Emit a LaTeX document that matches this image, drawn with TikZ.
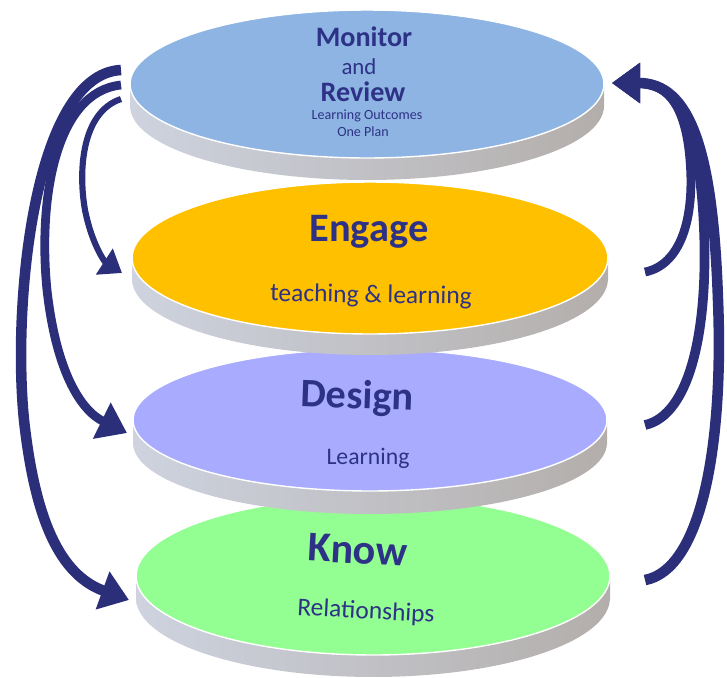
\documentclass[tikz,border=0pt]{standalone}
\usepackage{fontspec}
\setmainfont{Carlito}
\usetikzlibrary{arrows.meta}
\definecolor{navy}{HTML}{2E3286}
\definecolor{arrowblue}{HTML}{2B2F7A}
\definecolor{monitorblue}{HTML}{8DB4E2}
\definecolor{engageyellow}{HTML}{FFC000}
\definecolor{designviolet}{HTML}{A9ACFE}
\definecolor{knowgreen}{HTML}{93FE91}
\definecolor{rimleft}{HTML}{CED3DF}
\definecolor{rimright}{HTML}{B3AEAB}
\tikzset{
  rim/.style={left color=rimleft, right color=rimright},
  discface/.style={draw=white, line width=0.8pt},
  bigword/.style={text=navy, inner sep=0pt, font=\bfseries\fontsize{23}{23}\selectfont},
  smallword/.style={text=navy, inner sep=0pt, font=\fontsize{14.5}{14.5}\selectfont},
  loopline/.style={draw=arrowblue, line width=#1, -{Triangle[length=16pt, width=22pt]}},
  loopline/.default=4pt
}
\begin{document}
\begin{tikzpicture}[x=0.02cm, y=-0.02cm]
  \useasboundingbox (0,0) rectangle (727,677);

  % Know
  \shade[rim] (136,576) rectangle (610,598);
  \shade[rim] (373,598) ellipse [x radius=4.74cm, y radius=1.58cm];
  \fill[discface, fill=knowgreen] (373,576) ellipse [x radius=4.74cm, y radius=1.58cm];
  \node[bigword, font=\bfseries\fontsize{24}{24}\selectfont, rotate=-3] (know) at (358,550) {Know};
  \node[smallword, rotate=-3] (relationships) at (366,612) {Relationships};

  % Design
  \shade[rim] (133,420) rectangle (607,443);
  \shade[rim] (370,443) ellipse [x radius=4.74cm, y radius=1.42cm];
  \fill[discface, fill=designviolet] (370,420) ellipse [x radius=4.74cm, y radius=1.42cm];
  \node[bigword, rotate=-2] (design) at (357,398) {Design};
  \node[smallword, font=\fontsize{13.5}{13.5}\selectfont] (learning) at (368,458) {Learning};

  % Engage
  \shade[rim] (132,258) rectangle (608,279);
  \shade[rim] (370,279) ellipse [x radius=4.76cm, y radius=1.52cm];
  \fill[discface, fill=engageyellow] (370,258) ellipse [x radius=4.76cm, y radius=1.52cm];
  \node[bigword] (engage) at (369,232) {Engage};
  \node[smallword, rotate=-1] (teaching) at (371,296) {teaching \& learning};

  % Monitor and Review
  \shade[rim] (130,84) rectangle (604,106);
  \shade[rim] (367,106) ellipse [x radius=4.74cm, y radius=1.48cm];
  \fill[discface, fill=monitorblue] (367,84) ellipse [x radius=4.74cm, y radius=1.48cm];
  \node[bigword, font=\bfseries\fontsize{16}{16}\selectfont] (monitor) at (364,37) {Monitor};
  \node[smallword, font=\fontsize{13}{13}\selectfont] (and) at (359,67) {and};
  \node[bigword, font=\bfseries\fontsize{16}{16}\selectfont] (review) at (363,92) {Review};
  \node[smallword, font=\fontsize{8}{8}\selectfont] (outcomes) at (367,116) {Learning Outcomes};
  \node[smallword, font=\fontsize{8}{8}\selectfont] (oneplan) at (363,132) {One Plan};

  % left arrows
  \coordinate (lk) at (121,70);
  \coordinate (ld) at (121,85);
  \coordinate (le) at (121,99);
  \coordinate (tk) at (129,600);
  \coordinate (td) at (127,433);
  \coordinate (te) at (122,273);
  \draw[loopline=6pt] (lk) .. controls (35,74) and (12,300) .. (24,420) .. controls (35,520) and (60,575) .. (tk);
  \draw[loopline=5pt] (ld) .. controls (55,92) and (38,200) .. (47,290) .. controls (56,370) and (80,410) .. (td);
  \draw[loopline=3.5pt, -{Triangle[length=12pt, width=17pt]}] (le) .. controls (82,112) and (78,170) .. (85,210) .. controls (92,245) and (105,262) .. (te);

  % right arrows
  \coordinate (rm) at (612,83);
  \coordinate (re) at (645,272);
  \coordinate (rd) at (645,425);
  \coordinate (rk) at (645,580);
  \draw[loopline=5pt] (re) .. controls (680,265) and (695,220) .. (690,160) .. controls (686,110) and (670,83) .. (rm);
  \draw[loopline=5.5pt] (rd) .. controls (690,415) and (708,330) .. (704,230) .. controls (700,130) and (680,83) .. (rm);
  \draw[loopline=6pt] (rk) .. controls (700,570) and (724,450) .. (718,300) .. controls (713,150) and (690,83) .. (rm);
\end{tikzpicture}
\end{document}
